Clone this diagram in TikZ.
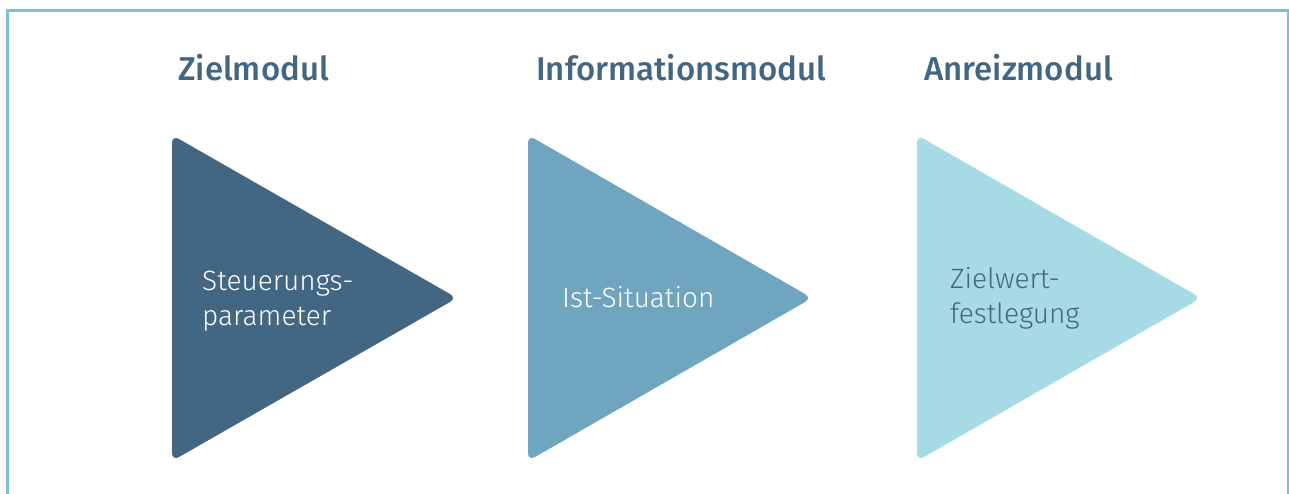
\documentclass[tikz,border=0pt]{standalone}
\usepackage{fontspec}
\newfontfamily\titlefont{Fira Sans Medium}
\newfontfamily\bodyfont{Fira Sans Light}

\definecolor{dunkel}{HTML}{436682}
\definecolor{mittel}{HTML}{6FA5BE}
\definecolor{hell}{HTML}{A6DAE4}
\definecolor{rahmen}{HTML}{82BECB}

\tikzset{
  titel/.style={anchor=base west, inner sep=0pt, text=dunkel, font=\titlefont\fontsize{33}{40}\selectfont},
  inhalt/.style={anchor=base west, inner sep=0pt, align=left, font=\bodyfont\fontsize{28}{35}\selectfont},
  pfeil/.style={rounded corners=8pt}
}

\begin{document}
\begin{tikzpicture}[x=1pt,y=-1pt]

      \useasboundingbox (0,0) rectangle (1289,493);
      \clip (0,0) rectangle (1289,493);
      \draw[rahmen, line width=3pt] (7,10) rectangle (1288,520);

      % Dreiecke
      \fill[pfeil, dunkel] (172,135) -- (457,298) -- (172,461) -- cycle;
      \fill[pfeil, mittel] (528,135) -- (812,298) -- (528,461) -- cycle;
      \fill[pfeil, hell]   (917,135) -- (1201,298) -- (917,461) -- cycle;

      % Ueberschriften
      \begin{scope}[every node/.style={titel}]
        \node (ziel)   at (178,80) {Zielmodul};
        \node (info)   at (536,80) {Informationsmodul};
        \node (anreiz) at (924,80) {Anreizmodul};
      \end{scope}

      % Texte (Grundlinie der letzten Zeile)
      \begin{scope}[every node/.style={inhalt}]
        \node[text=white]  (steuer) at (202,325) {Steuerungs-\\parameter};
        \node[text=white]  (ist)    at (562,307) {Ist-Situation};
        \node[text=dunkel] (wert)   at (950,323) {Zielwert-\\festlegung};
      \end{scope}

    \end{tikzpicture}
\end{document}
